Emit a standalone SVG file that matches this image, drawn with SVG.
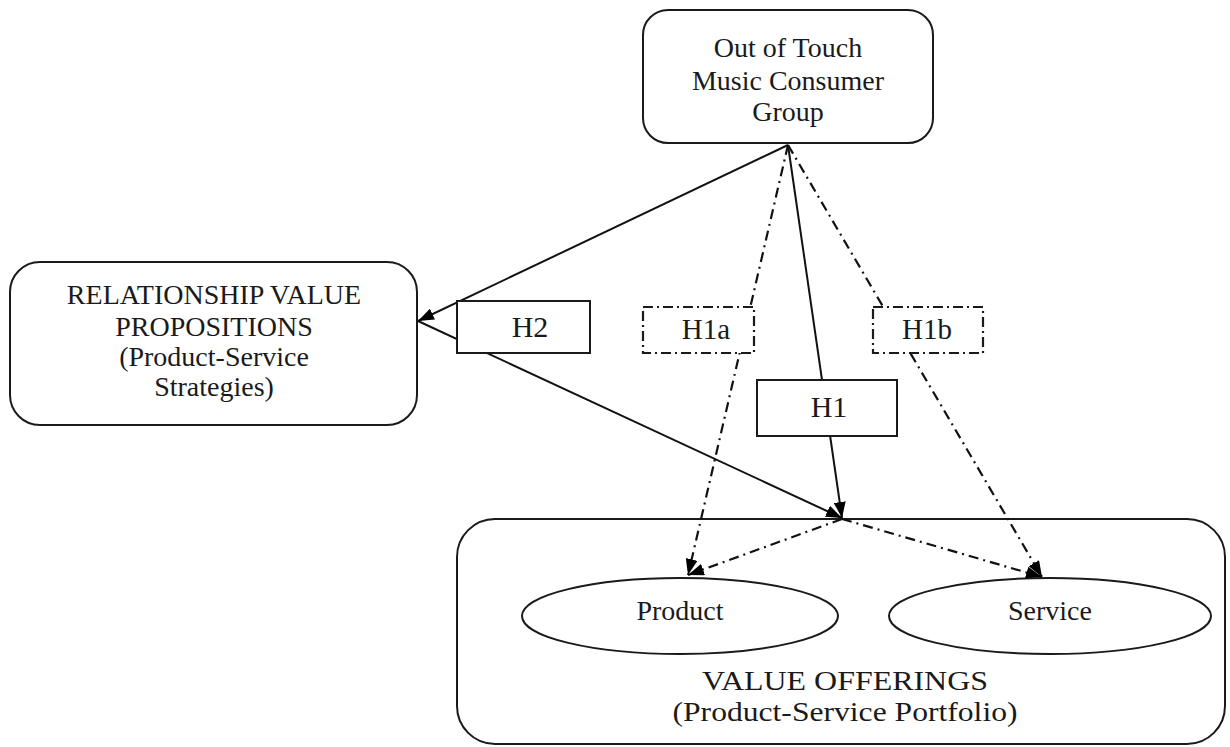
<svg xmlns="http://www.w3.org/2000/svg" width="1230" height="747" viewBox="0 0 1230 747">
<style>
text{font-family:"Liberation Serif","Times New Roman",serif;fill:#1a1a1a;text-anchor:middle}
.t{font-size:28px}
.h{font-size:30px}
.hs{font-size:29px}
.box{fill:#fff;stroke:#1a1a1a;stroke-width:2}
.lab{fill:#fff;stroke:#1a1a1a;stroke-width:2}
.dlab{fill:#fff;stroke:#1a1a1a;stroke-width:2.2;stroke-dasharray:10 4 2 4}
.solid{fill:none;stroke:#111;stroke-width:2}
.dd{fill:none;stroke:#111;stroke-width:2.2;stroke-dasharray:10 5 2 5}
</style>
<defs>
<marker id="ah" viewBox="0 0 16 12" refX="16" refY="6" markerWidth="16" markerHeight="12" orient="auto" markerUnits="userSpaceOnUse"><path d="M0,0 L16,6 L0,12 z" fill="#000"/></marker>
</defs>
<g id="value-offerings">
<rect class="box" x="457" y="519" width="768" height="225" rx="38"/>
<text class="t" x="845" y="690" textLength="286" lengthAdjust="spacingAndGlyphs">VALUE OFFERINGS</text>
<text class="t" x="845" y="721" textLength="345" lengthAdjust="spacingAndGlyphs">(Product-Service Portfolio)</text>
</g>
<g id="product">
<ellipse class="box" cx="680" cy="616" rx="158" ry="38"/>
<text class="t" x="680" y="620">Product</text>
</g>
<g id="service">
<ellipse class="box" cx="1050" cy="616" rx="161" ry="38"/>
<text class="t" x="1050" y="620">Service</text>
</g>
<g id="consumer-group">
<rect class="box" x="643" y="10" width="290" height="133" rx="25"/>
<text class="t" x="788" y="57">Out of Touch</text>
<text class="t" x="788" y="90">Music Consumer</text>
<text class="t" x="788" y="121">Group</text>
</g>
<g id="relationship-value">
<rect class="box" x="10" y="262" width="407" height="163" rx="30"/>
<text class="t" x="214" y="304">RELATIONSHIP VALUE</text>
<text class="t" x="214" y="336">PROPOSITIONS</text>
<text class="t" x="214" y="366">(Product-Service</text>
<text class="t" x="214" y="396">Strategies)</text>
</g>
<g id="connectors">
<line class="solid" x1="788" y1="145" x2="418" y2="321" marker-end="url(#ah)"/>
<line class="solid" x1="418" y1="321" x2="842" y2="518" marker-end="url(#ah)"/>
<line class="solid" x1="788" y1="145" x2="842" y2="518" marker-end="url(#ah)"/>
<line class="dd" x1="788" y1="145" x2="688" y2="575" marker-end="url(#ah)"/>
<line class="dd" x1="788" y1="145" x2="1042" y2="577" marker-end="url(#ah)"/>
<line class="dd" x1="842" y1="519" x2="688" y2="575" marker-end="url(#ah)"/>
<line class="dd" x1="842" y1="519" x2="1042" y2="577" marker-end="url(#ah)"/>
</g>
<g id="label-H2">
<rect class="lab" x="457" y="301" width="133" height="52"/>
<text class="h" x="530" y="337">H2</text>
</g>
<g id="label-H1a">
<rect class="dlab" x="643" y="307" width="111" height="46"/>
<text class="hs" x="706" y="339">H1a</text>
</g>
<g id="label-H1b">
<rect class="dlab" x="873" y="307" width="110" height="46"/>
<text class="hs" x="927" y="339">H1b</text>
</g>
<g id="label-H1">
<rect class="lab" x="757" y="380" width="140" height="56"/>
<text class="h" x="829" y="417">H1</text>
</g>
</svg>
